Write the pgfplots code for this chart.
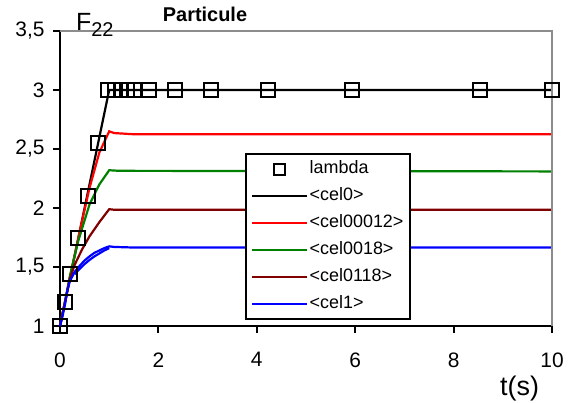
\documentclass[border=0pt]{standalone}
\usepackage{fontspec}
\setmainfont{Liberation Sans}
\usepackage{pgfplots}
\pgfplotsset{compat=1.18}
\definecolor{cgreen}{RGB}{0,128,0}
\definecolor{cbrown}{RGB}{128,0,0}
\definecolor{cgray}{RGB}{140,140,140}

\begin{document}
\begin{tikzpicture}
\path[use as bounding box] (0bp,0bp) rectangle (574bp,403bp);
\begin{axis}[
  at={(60bp,77bp)}, anchor=south west,
  width=492bp, height=295bp, scale only axis,
  xmin=0, xmax=10, ymin=1, ymax=3.5,
  clip=false,
  axis x line*=bottom, axis y line*=left,
  axis line style={black, line width=2bp, -},
  xtick={0,2,...,10},
  ytick={1,1.5,2,2.5,3,3.5},
  tick align=outside,
  major tick length=7bp,
  tick style={black, line width=2bp},
  /pgf/number format/assume math mode=true,
  /pgf/number format/use comma,
  ticklabel style={font=\fontsize{21}{21}\selectfont},
  xticklabel style={yshift=-16bp},
  yticklabel style={xshift=-5bp},
  legend cell align=left,
  legend image code/.code={\draw[mark repeat=2,mark phase=2,#1] plot coordinates {(0bp,0bp)(27.5bp,0bp)(55bp,0bp)};},
  legend style={at={(0.376,0.586)}, anchor=north west, draw=black, line width=2bp,
    inner xsep=5bp, inner ysep=1.5bp,
    font=\fontsize{18}{18}\selectfont,
    nodes={text height=13bp, text depth=4bp, inner ysep=5bp, inner xsep=1.5bp}},
]
\addplot[only marks, mark=square, mark size=7bp, mark options={line width=2bp, black, fill=none}, forget plot] coordinates {
(0,1) (0.10,1.2) (0.20,1.44) (0.37,1.745) (0.57,2.10) (0.77,2.55) (0.98,3)
(1.12,3) (1.24,3) (1.36,3) (1.50,3) (1.81,3) (2.34,3) (3.07,3) (4.23,3) (5.93,3) (8.54,3) (10,3)};
\addlegendimage{only marks, mark=square, mark size=5.5bp, mark options={line width=2bp, black, fill=none}}
\addlegendentry{lambda}
\addplot[black, line width=2.2bp] coordinates {(0,1) (1.0,3) (10,3)};
\addlegendentry{<cel0>}
\addplot[red, line width=2.2bp] coordinates {
(0,1) (0.1,1.2) (0.2,1.41) (0.4,1.8) (0.6,2.17) (0.8,2.47) (1.0,2.65) (1.1,2.635) (1.5,2.625) (10,2.625)};
\addlegendentry{<cel00012>}
\addplot[cgreen, line width=2.2bp] coordinates {
(0,1) (0.1,1.2) (0.2,1.42) (0.37,1.72) (0.6,2.03) (0.8,2.2) (1.0,2.32) (1.2,2.315) (10,2.31)};
\addlegendentry{<cel0018>}
\addplot[cbrown, line width=2.2bp] coordinates {
(0,1) (0.1,1.2) (0.2,1.4) (0.3,1.52) (0.45,1.65) (0.6,1.76) (0.8,1.88) (1.0,1.99) (1.1,1.985) (10,1.985)};
\addlegendentry{<cel0118>}
\addplot[blue, line width=2.2bp] coordinates {
(0,1) (0.05,1.08) (0.1,1.18) (0.15,1.3) (0.2,1.38) (0.3,1.46) (0.4,1.51) (0.5,1.555) (0.6,1.59) (0.7,1.62) (0.8,1.64) (0.9,1.66) (1.0,1.675) (1.1,1.67) (1.5,1.665) (10,1.665)};
\addlegendentry{<cel1>}
\addplot[blue, line width=2.2bp, forget plot] coordinates {
(0.3,1.44) (0.4,1.485) (0.5,1.525) (0.6,1.56) (0.7,1.59) (0.8,1.615) (0.9,1.64) (1.0,1.66)};
\draw[cgray, line width=2bp] (rel axis cs:0,1) -- (rel axis cs:1,1) -- (rel axis cs:1,0);
\end{axis}
\node[anchor=base, inner sep=0, font=\bfseries\fontsize{20}{20}\selectfont] at (205bp,381bp) {Particule};
\node[anchor=base west, inner sep=0, font=\fontsize{25}{25}\selectfont] at (76bp,372bp) {F{\fontsize{20}{20}\selectfont\raisebox{-6bp}{22}}};
\node[anchor=base west, inner sep=0, font=\fontsize{27}{27}\selectfont] at (500bp,8bp) {t(s)};
\end{tikzpicture}
\end{document}
